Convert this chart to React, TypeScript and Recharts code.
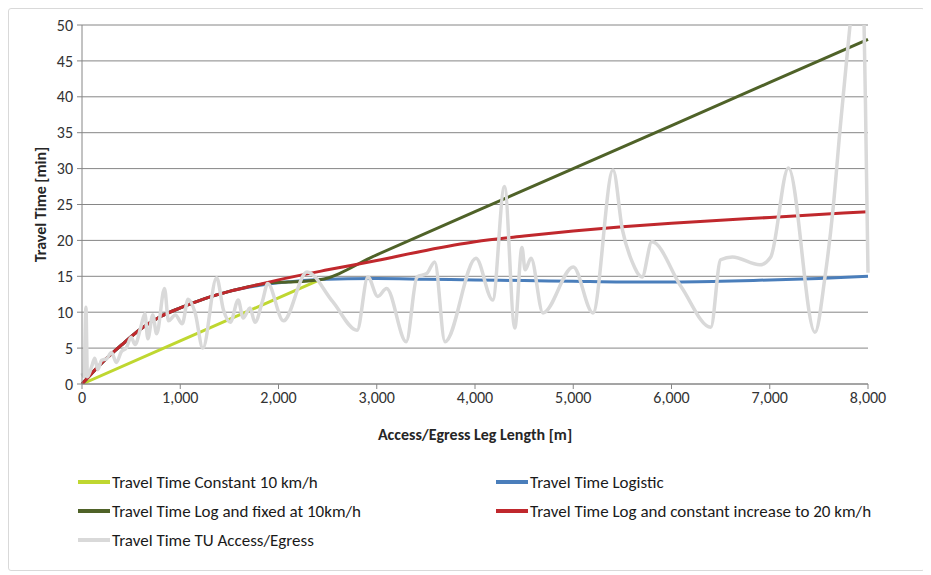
import React from 'react'
import { LineChart, Line, XAxis, YAxis, CartesianGrid, Label } from 'recharts'

// x = leg length [m], y = travel time [min]
const constX = [0, 1000, 2000, 2400]
const constY = [0, 6, 12, 14.4]

const logisticX = [0, 200, 400, 600, 800, 1000, 1250, 1500, 1750, 2000, 2200, 2400, 3000, 3500, 4000, 4500, 5000, 5500, 6000, 6500, 7000, 7500, 8000]
const logisticY = [0, 2.9, 5.4, 7.7, 9.4, 10.6, 11.9, 12.9, 13.6, 14.1, 14.35, 14.55, 14.7, 14.6, 14.5, 14.4, 14.3, 14.2, 14.2, 14.3, 14.5, 14.7, 15.0]

const fixedX = [0, 200, 400, 600, 800, 1000, 1250, 1500, 1750, 1900, 2100, 2300, 2420, 3000, 4000, 5000, 6000, 7000, 8000]
const fixedY = [0, 2.9, 5.4, 7.7, 9.4, 10.6, 11.9, 12.9, 13.7, 14.05, 14.2, 14.35, 14.52, 18, 24, 30, 36, 42, 48]

const logIncX = [0, 200, 400, 600, 800, 1000, 1250, 1500, 1750, 2000, 2500, 3000, 3500, 4000, 4500, 5000, 5500, 6000, 6500, 7000, 7500, 8000]
const logIncY = [0, 2.9, 5.4, 7.7, 9.4, 10.6, 11.9, 12.9, 13.7, 14.5, 15.9, 17.2, 18.6, 19.8, 20.6, 21.3, 21.9, 22.4, 22.8, 23.2, 23.6, 24.0]

const tuX = [0, 20, 40, 55, 100, 130, 160, 200, 250, 300, 350, 400, 450, 500, 540, 600, 640, 670, 720, 760, 840, 880, 950, 1020, 1080, 1150, 1230, 1370, 1440, 1510, 1590, 1640, 1710, 1760, 1840, 1890, 2050, 2290, 2550, 2800, 2910, 3010, 3100, 3300, 3410, 3510, 3590, 3695, 4010, 4180, 4300, 4405, 4478, 4510, 4570, 4692, 5000, 5200, 5405, 5500, 5600, 5700, 5800, 6100, 6400, 6500, 6620, 6900, 7010, 7190, 7460, 7562, 7643, 7715, 7817, 7900, 7960, 7980, 8000]
const tuY = [1.5, 1.0, 10.7, 1.0, 2.5, 3.6, 2.0, 3.3, 3.5, 4.4, 3.0, 4.5, 5.0, 6.5, 5.5, 8.0, 9.8, 6.3, 9.6, 7.0, 13.3, 8.8, 9.6, 8.4, 11.8, 10.0, 5.0, 14.8, 10.3, 8.6, 11.7, 9.2, 10.6, 8.6, 11.7, 14.0, 8.8, 15.6, 11.5, 7.5, 14.9, 12.2, 13.3, 5.9, 14.9, 15.4, 17.0, 5.9, 17.5, 11.7, 27.5, 7.8, 19.0, 15.9, 17.5, 9.9, 16.3, 9.9, 29.8, 21.5, 17.0, 14.9, 19.8, 13.5, 7.9, 17.3, 17.7, 16.6, 17.7, 30.1, 7.2, 14.9, 24.2, 35.4, 50, 62, 50, 33.6, 15.5]

const xTicks = [0, 1000, 2000, 3000, 4000, 5000, 6000, 7000, 8000]
const yTicks = [0, 5, 10, 15, 20, 25, 30, 35, 40, 45, 50]

const toPoints = (xs: number[], ys: number[]) => xs.map((x, i) => ({ x, y: ys[i] }))

const series = [
    { name: 'Travel Time Constant 10 km/h', color: '#bfd730', data: toPoints(constX, constY), type: 'linear' },
    { name: 'Travel Time Logistic', color: '#4a7ebb', data: toPoints(logisticX, logisticY), type: 'monotone' },
    { name: 'Travel Time Log and fixed at 10km/h', color: '#4f6228', data: toPoints(fixedX, fixedY), type: 'monotone' },
    { name: 'Travel Time Log and constant increase to 20 km/h', color: '#c0282d', data: toPoints(logIncX, logIncY), type: 'monotone' },
    { name: 'Travel Time TU Access/Egress', color: '#d9d9d9', data: toPoints(tuX, tuY), type: 'monotone' },
]

const FONT = "Calibri, Carlito, 'Liberation Sans Narrow', 'Open Sans', sans-serif"

export default function App() {
    return (
        <div style={{ position: 'relative', width: 917, height: 563, border: '1px solid #d9d9d9', borderRadius: 3, boxSizing: 'border-box', fontFamily: FONT, background: '#fff' }}>
            <LineChart width={900} height={440} margin={{ top: 16, right: 41, left: 0, bottom: 7 }}>
                <CartesianGrid stroke="#868686" vertical={false} />
                <XAxis
                    dataKey="x"
                    type="number"
                    domain={[0, 8000]}
                    ticks={xTicks}
                    tickFormatter={(v) => v.toLocaleString('en-US')}
                    stroke="#868686"
                    tickSize={5}
                    tickMargin={3}
                    height={58}
                    tick={{ fill: '#333', fontSize: 16, fontFamily: FONT }}
                >
                    <Label value="Access/Egress Leg Length [m]" position="insideBottom" offset={2}
                        style={{ fontWeight: 'bold', fontSize: 16, fill: '#262626', fontFamily: FONT }} />
                </XAxis>
                <YAxis
                    type="number"
                    domain={[0, 50]}
                    ticks={yTicks}
                    allowDataOverflow
                    stroke="#868686"
                    width={73}
                    tickSize={5}
                    tickMargin={4}
                    tick={{ fill: '#333', fontSize: 16, fontFamily: FONT }}
                >
                    <Label value="Travel Time [min]" angle={-90} position="insideLeft" offset={31}
                        style={{ textAnchor: 'middle', fontWeight: 'bold', fontSize: 16, fill: '#262626', fontFamily: FONT }} />
                </YAxis>
                {series.map((s) => (
                    <Line
                        key={s.name}
                        data={s.data}
                        dataKey="y"
                        type={s.type as any}
                        stroke={s.color}
                        strokeWidth={s.name.includes('TU') ? 3.5 : 3}
                        dot={false}
                        isAnimationActive={false}
                    />
                ))}
            </LineChart>
            {/* legend, two columns like the spreadsheet original */}
            <div style={{ position: 'absolute', left: 0, top: 0, width: '100%', height: '100%', pointerEvents: 'none' }}>
                {series.map((s, i) => {
                    const col = i % 2
                    const row = Math.floor(i / 2)
                    return (
                        <div key={s.name} style={{ position: 'absolute', left: col === 0 ? 69 : 487, top: 463 + row * 29, display: 'flex', alignItems: 'center', height: 20, fontSize: 17, color: '#1a1a1a', whiteSpace: 'nowrap' }}>
                            <span style={{ display: 'inline-block', width: 32, height: 4, background: s.color, marginRight: 2 }} />
                            {s.name}
                        </div>
                    )
                })}
            </div>
        </div>
    )
}
